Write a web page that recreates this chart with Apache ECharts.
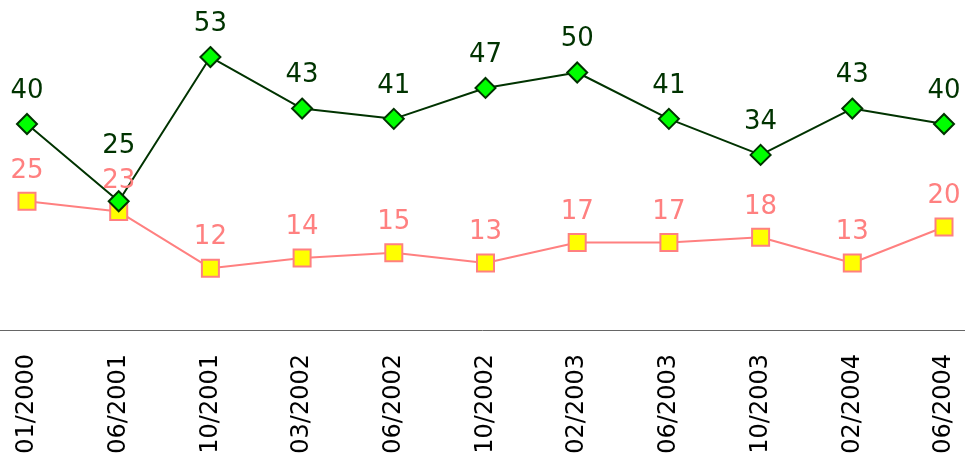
<!DOCTYPE html>
<html>
<head>
<meta charset="utf-8">
<script src="https://cdn.jsdelivr.net/npm/echarts@6/dist/echarts.min.js"></script>
<style>
    html, body { margin: 0; padding: 0; background: #fff; }
    #chart { width: 965px; height: 459px; }
</style>
</head>
<body>
<div id="chart"></div>
<script>
var categories = ['01/2000', '06/2001', '10/2001', '03/2002', '06/2002', '10/2002', '02/2003', '06/2003', '10/2003', '02/2004', '06/2004']
var greenValues = [40, 25, 53, 43, 41, 47, 50, 41, 34, 43, 40]
var pinkValues = [25, 23, 12, 14, 15, 13, 17, 17, 18, 13, 20]

// green label at 06/2001 is pushed up so it clears the pink "23"
var greenData = greenValues.map(function (v, i) {
    if (i === 1) {
        return { value: v, label: { distance: 31 } }
    }
    return v
})

var myChart = echarts.init(document.getElementById('chart'))
var option = {
    animation: false,
    textStyle: { fontFamily: 'DejaVu Sans' },
    grid: [
        { left: 27, right: 21, top: 21, bottom: 129 },
        // full-width grid just for the baseline
        { left: 0, right: 0, top: 21, bottom: 129 }
    ],
    xAxis: [
        {
            type: 'category',
            gridIndex: 0,
            boundaryGap: false,
            data: categories,
            axisLine: { show: false },
            axisTick: { show: false },
            axisLabel: {
                rotate: 90,
                margin: 24,
                fontSize: 24,
                color: '#000000',
                interval: 0
            }
        },
        {
            type: 'value',
            gridIndex: 1,
            min: 0,
            max: 1,
            axisLine: { show: true, lineStyle: { color: '#666666', width: 1 } },
            axisTick: { show: false },
            axisLabel: { show: false },
            splitLine: { show: false }
        }
    ],
    yAxis: [
        { type: 'value', gridIndex: 0, min: 0, max: 60, show: false, splitLine: { show: false } },
        { type: 'value', gridIndex: 1, min: 0, max: 60, show: false, splitLine: { show: false } }
    ],
    series: [
        {
            type: 'line',
            data: pinkValues,
            symbol: 'rect',
            symbolSize: 17,
            lineStyle: { color: '#ff8080', width: 2 },
            itemStyle: { color: '#ffff00', borderColor: '#ff8080', borderWidth: 2 },
            label: {
                show: true,
                position: 'top',
                distance: 8,
                fontSize: 26,
                color: '#ff8080'
            }
        },
        {
            type: 'line',
            data: greenData,
            symbol: 'diamond',
            symbolSize: 20,
            lineStyle: { color: '#003300', width: 2 },
            itemStyle: { color: '#00ff00', borderColor: '#003300', borderWidth: 2 },
            label: {
                show: true,
                position: 'top',
                distance: 9,
                fontSize: 26,
                color: '#003300'
            }
        }
    ]
}
myChart.setOption(option)
</script>
</body>
</html>
